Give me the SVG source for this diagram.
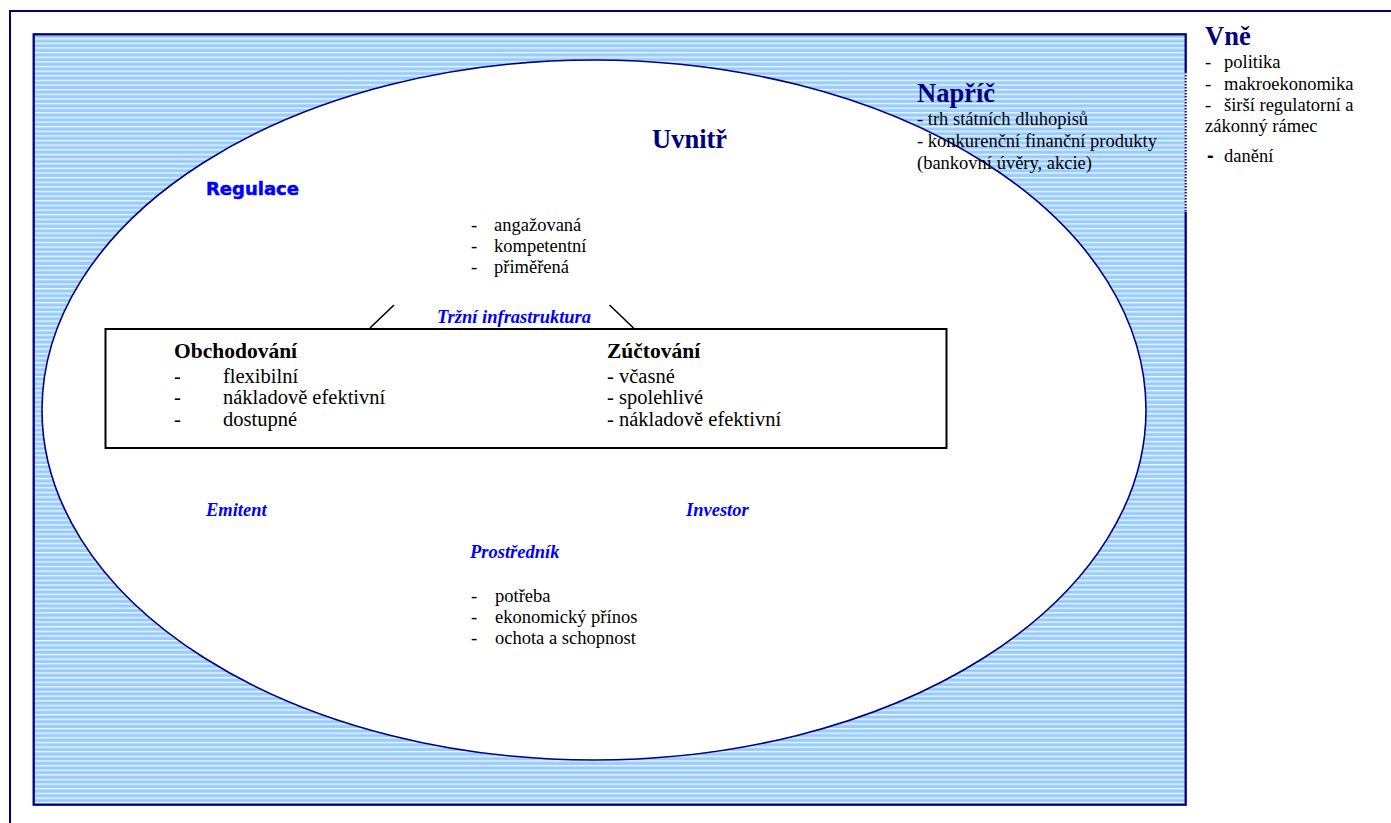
<svg xmlns="http://www.w3.org/2000/svg" width="1391" height="823" viewBox="0 0 1391 823">
  <defs>
    <pattern id="stripes" patternUnits="userSpaceOnUse" x="0" y="35.3" width="10" height="4.63">
      <rect x="0" y="0" width="10" height="4.63" fill="#99CCFF"/>
      <rect x="0" y="2.9" width="10" height="1.1" fill="#FFFFFF"/>
    </pattern>
    <style>
      .serif { font-family: "Liberation Serif", "Times New Roman", serif; }
      .txt { font-family: "Liberation Serif", "Times New Roman", serif; font-size: 18.5px; fill: #000; }
      .box { font-family: "Liberation Serif", "Times New Roman", serif; font-size: 20.5px; fill: #000; }
      .boxh { font-family: "Liberation Serif", "Times New Roman", serif; font-size: 21.5px; font-weight: bold; fill: #000; }
      .head { font-family: "Liberation Serif", "Times New Roman", serif; font-size: 26.5px; font-weight: bold; fill: #000080; }
      .actor { font-family: "Liberation Serif", "Times New Roman", serif; font-size: 18.5px; font-weight: bold; font-style: italic; fill: #0000FF; }
      .navy { stroke: #000080; fill: none; }
    </style>
  </defs>

  <rect x="0" y="0" width="1391" height="823" fill="#FFFFFF"/>

  <g id="frame">
    <path d="M10,823 V11 H1391" class="navy" stroke-width="2"/>
  </g>

  <g id="naprc-zone">
    <rect x="33.7" y="34.3" width="1152" height="770.4" fill="url(#stripes)" stroke="#000080" stroke-width="2.3"/>
    <line x1="1185.7" y1="72" x2="1185.7" y2="212" stroke="#FFFFFF" stroke-width="2.6"/>
    <line x1="1185.7" y1="72" x2="1185.7" y2="212" stroke="#000080" stroke-width="2" stroke-dasharray="1.5 1.5"/>
  </g>

  <g id="uvnitr-zone">
    <ellipse cx="594" cy="410" rx="552" ry="350" fill="#FFFFFF" stroke="#000080" stroke-width="1.6"/>
  </g>

  <g id="vne">
    <text class="head" x="1205" y="45">Vně</text>
    <text class="txt" x="1205" y="67.5">-</text>
    <text class="txt" x="1224" y="67.5">politika</text>
    <text class="txt" x="1205" y="90">-</text>
    <text class="txt" x="1224" y="90">makroekonomika</text>
    <text class="txt" x="1205" y="111">-</text>
    <text class="txt" x="1224" y="111">širší regulatorní a</text>
    <text class="txt" x="1205" y="131.5">zákonný rámec</text>
    <text x="1207" y="161.5" style="font-family: 'Liberation Sans', Arial, sans-serif; font-size: 20px; font-weight: bold; fill: #000;">-</text>
    <text class="txt" x="1224" y="161.5">danění</text>
  </g>

  <g id="naprc">
    <text class="head" x="917" y="102">Napříč</text>
    <text class="txt" x="917" y="125">- trh státních dluhopisů</text>
    <text class="txt" x="917" y="147">- konkurenční finanční produkty</text>
    <text class="txt" x="917" y="169">(bankovní úvěry, akcie)</text>
  </g>

  <g id="uvnitr">
    <text class="head" x="652" y="148">Uvnitř</text>
  </g>

  <g id="regulace">
    <text x="206" y="195" style="font-family: 'DejaVu Sans', 'Liberation Sans', sans-serif; font-size: 18px; font-weight: bold; fill: #0000FF; stroke: #0000FF; stroke-width: 0.5;">Regulace</text>
    <text class="txt" x="471" y="231">-</text>
    <text class="txt" x="494" y="231">angažovaná</text>
    <text class="txt" x="471" y="252">-</text>
    <text class="txt" x="494" y="252">kompetentní</text>
    <text class="txt" x="471" y="273">-</text>
    <text class="txt" x="494" y="273">přiměřená</text>
  </g>

  <g id="connectors" stroke="#000" stroke-width="1.6" fill="none">
    <line x1="370" y1="328" x2="394" y2="305"/>
    <line x1="609.5" y1="305" x2="633.5" y2="328"/>
  </g>

  <g id="trzni-infrastruktura">
    <text class="actor" x="437" y="323">Tržní infrastruktura</text>
    <rect x="105.5" y="329" width="841" height="119" fill="#FFFFFF" stroke="#000" stroke-width="2"/>
  </g>

  <g id="obchodovani">
    <text class="boxh" x="174" y="358">Obchodování</text>
    <text class="box" x="174" y="382.5">-</text>
    <text class="box" x="223" y="382.5">flexibilní</text>
    <text class="box" x="174" y="404">-</text>
    <text class="box" x="223" y="404">nákladově efektivní</text>
    <text class="box" x="174" y="425.5">-</text>
    <text class="box" x="223" y="425.5">dostupné</text>
  </g>

  <g id="zuctovani">
    <text class="boxh" x="607" y="358">Zúčtování</text>
    <text class="box" x="607" y="382.5">- včasné</text>
    <text class="box" x="607" y="404">- spolehlivé</text>
    <text class="box" x="607" y="425.5">- nákladově efektivní</text>
  </g>

  <g id="emitent">
    <text class="actor" x="206" y="516">Emitent</text>
  </g>

  <g id="investor">
    <text class="actor" x="686" y="516">Investor</text>
  </g>

  <g id="prostrednik">
    <text class="actor" x="470" y="558">Prostředník</text>
    <text class="txt" x="471" y="602">-</text>
    <text class="txt" x="495" y="602">potřeba</text>
    <text class="txt" x="471" y="623">-</text>
    <text class="txt" x="495" y="623">ekonomický přínos</text>
    <text class="txt" x="471" y="644">-</text>
    <text class="txt" x="495" y="644">ochota a schopnost</text>
  </g>
</svg>
